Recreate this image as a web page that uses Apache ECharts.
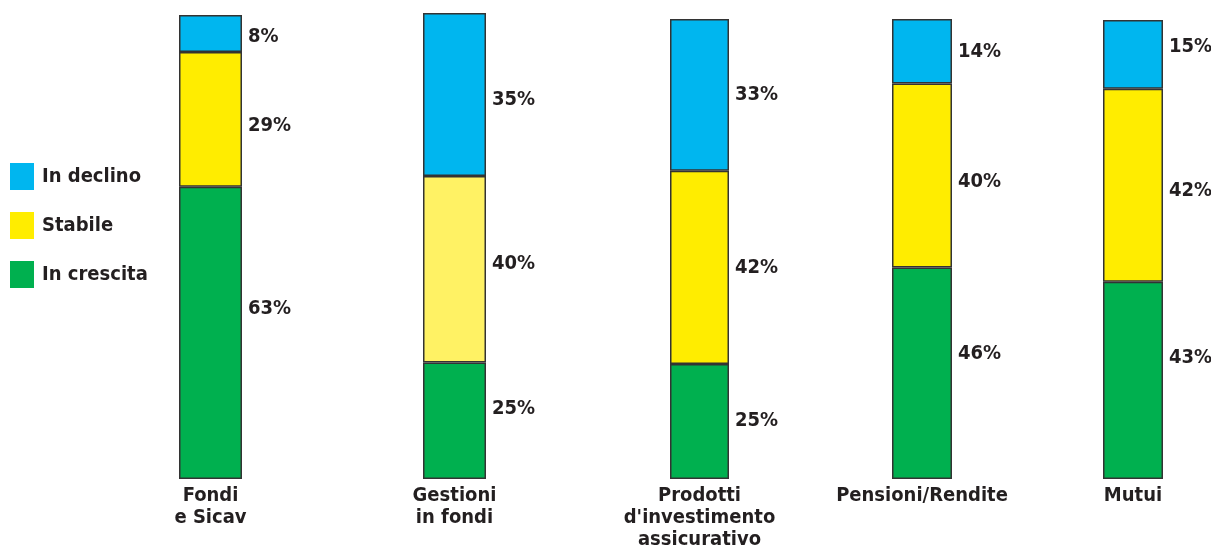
<!DOCTYPE html>
<html>
<head>
<meta charset="utf-8">
<script src="https://cdn.jsdelivr.net/npm/echarts@6/dist/echarts.min.js"></script>
<style>
html,body{margin:0;padding:0;background:#fff;}
#chart{width:1211px;height:553px;}
</style>
</head>
<body>
<div id="chart"></div>
<script>
// ---- data ----
const categories = ['Fondi\ne Sicav', 'Gestioni\nin fondi', 'Prodotti\nd\'investimento\nassicurativo', 'Pensioni/Rendite', 'Mutui'];
const inCrescita = [63, 25, 25, 46, 43];
const stabile = [29, 40, 42, 40, 42];
const inDeclino = [8, 35, 33, 14, 15];
const seriesNames = ['In crescita', 'Stabile', 'In declino'];

// ---- layout / style (kept out of data) ----
const barBoxes = [
  { left: 179, width: 63, top: 15 },
  { left: 423, width: 63, top: 13 },
  { left: 670, width: 59, top: 19 },
  { left: 892, width: 60, top: 19 },
  { left: 1103, width: 60, top: 20 }
];
const gridBottom = 74;
const labelNudge = {
  'In crescita': [-24, -12, -1, -19, -23],
  'Stabile': [6, -6, 0, 6, 6],
  'In declino': [3, 5, 0, 1, -8]
};
const colors = { 'In crescita': '#00B04F', 'Stabile': '#FFED00', 'In declino': '#00B6EF' };
const lightYellow = '#FFF264';
const FONT = '"Liberation Sans Narrow", "DejaVu Sans Condensed", "Arial Narrow", sans-serif';
const TXT = '#231F20';
const FS = 20;

const valuesBySeries = { 'In crescita': inCrescita, 'Stabile': stabile, 'In declino': inDeclino };

const grids = [], xAxes = [], yAxes = [], series = [];
categories.forEach((cat, i) => {
  const b = barBoxes[i];
  grids.push({ left: b.left, width: b.width, top: b.top, bottom: gridBottom, containLabel: false });
  xAxes.push({
    type: 'category', gridIndex: i, data: [cat],
    axisLine: { show: false }, axisTick: { show: false }, splitLine: { show: false },
    axisLabel: { interval: 0, margin: 6, color: TXT, fontFamily: FONT, fontWeight: 'bold', fontSize: FS, lineHeight: 22 }
  });
  yAxes.push({ type: 'value', gridIndex: i, min: 0, max: 100, show: false, splitLine: { show: false } });
  seriesNames.forEach(name => {
    const v = valuesBySeries[name][i];
    const item = {
      value: v,
      label: { offset: [0, labelNudge[name][i]] }
    };
    if (name === 'Stabile' && i === 1) item.itemStyle = { color: lightYellow };
    series.push({
      type: 'bar', name: name, stack: 'total' + i,
      xAxisIndex: i, yAxisIndex: i,
      barWidth: '100%',
      data: [item],
      itemStyle: { color: colors[name], borderColor: '#333', borderWidth: 1.5 },
      label: {
        show: true, position: 'right', distance: 6,
        formatter: '{c}%', color: TXT, fontFamily: FONT, fontWeight: 'bold', fontSize: FS
      },
      emphasis: { disabled: true },
      animation: false
    });
  });
});

const chart = echarts.init(document.getElementById('chart'), null, { renderer: 'canvas' });
chart.setOption({
  backgroundColor: '#fff',
  animation: false,
  legend: {
    orient: 'vertical', left: 10, top: 163, padding: 0,
    data: ['In declino', 'Stabile', 'In crescita'],
    itemWidth: 24, itemHeight: 27, itemGap: 22,
    icon: 'rect',
    itemStyle: { borderWidth: 0 },
    selectedMode: false,
    textStyle: { color: TXT, fontFamily: FONT, fontWeight: 'bold', fontSize: FS, padding: [0, 0, 0, 3] }
  },
  grid: grids,
  xAxis: xAxes,
  yAxis: yAxes,
  series: series
});
</script>
</body>
</html>
